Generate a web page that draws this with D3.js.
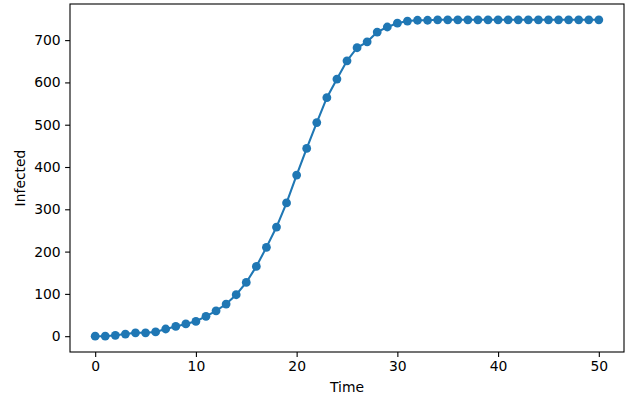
<!DOCTYPE html>
<html>
<head>
<meta charset="utf-8">
<script src="https://cdn.jsdelivr.net/npm/d3@7"></script>
<style>
  html, body { margin: 0; padding: 0; background: #fff; }
  svg { display: block; }
  text { font-family: "DejaVu Sans", sans-serif; fill: #000; }
</style>
</head>
<body>
<svg id="chart" width="639" height="399"></svg>
<script>
const time = d3.range(0, 51);
const infected = [0, 0, 2, 5, 8, 8, 10, 17, 23, 29, 35, 47, 60, 76, 98, 127, 165, 210, 258, 315,
  381, 444, 505, 564, 608, 651, 682, 696, 719, 731, 740, 745, 747, 747, 748, 748, 748, 748, 748, 748,
  748, 748, 748, 748, 748, 748, 748, 748, 748, 748, 748];
const xTicks = [0, 10, 20, 30, 40, 50];
const yTicks = [0, 100, 200, 300, 400, 500, 600, 700];
const xLabel = "Time";
const yLabel = "Infected";

const svg = d3.select("#chart");
const L = 70, R = 624, T = 4, B = 352;

const x = d3.scaleLinear().domain([-2.5, 52.5]).range([L, R]);
const yMin = d3.min(infected), yMax = d3.max(infected), pad = (yMax - yMin) * 0.05;
const y = d3.scaleLinear().domain([yMin - pad, yMax + pad]).range([B, T]);

const pts = time.map((t, i) => [t, infected[i]]);

// line
svg.append("path")
  .datum(pts)
  .attr("fill", "none")
  .attr("stroke", "#1f77b4")
  .attr("stroke-width", 2.08)
  .attr("d", d3.line().x(d => x(d[0])).y(d => y(d[1])));

// markers
svg.append("g").selectAll("circle").data(pts).join("circle")
  .attr("cx", d => x(d[0]))
  .attr("cy", d => y(d[1]))
  .attr("r", 4.4)
  .attr("fill", "#1f77b4");

// axes
const xAxis = d3.axisBottom(x).tickValues(xTicks).tickSize(4.9).tickPadding(4.4).tickFormat(d3.format("d"));
const yAxis = d3.axisLeft(y).tickValues(yTicks).tickSize(4.9).tickPadding(4.4).tickFormat(d3.format("d"));

const gx = svg.append("g").attr("transform", `translate(0,${B})`).call(xAxis);
const gy = svg.append("g").attr("transform", `translate(${L},0)`).call(yAxis);
[gx, gy].forEach(g => {
  g.select(".domain").remove();
  g.selectAll(".tick line").attr("stroke", "#000").attr("stroke-width", 1.1);
  g.selectAll(".tick text").attr("font-size", "13.9px").attr("font-family", "DejaVu Sans").attr("fill", "#000");
});

// frame (spines)
svg.append("rect")
  .attr("x", L).attr("y", T).attr("width", R - L).attr("height", B - T)
  .attr("fill", "none").attr("stroke", "#000").attr("stroke-width", 1.1);

// labels
svg.append("text")
  .attr("x", (L + R) / 2).attr("y", 392)
  .attr("text-anchor", "middle").attr("font-size", "13.9px")
  .text(xLabel);

svg.append("text")
  .attr("transform", `translate(25,${(T + B) / 2}) rotate(-90)`)
  .attr("text-anchor", "middle").attr("font-size", "13.9px")
  .text(yLabel);
</script>
</body>
</html>
